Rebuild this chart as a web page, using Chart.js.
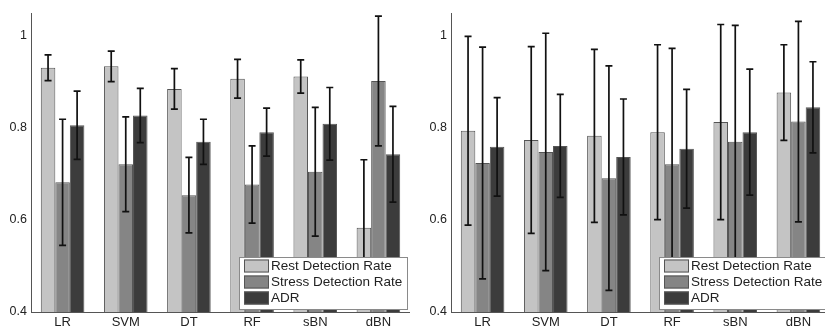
<!DOCTYPE html>
<html lang="en">
<head>
    <meta charset="UTF-8">
    <title>Detection rates</title>
    <script src="https://cdn.jsdelivr.net/npm/chart.js"></script>
    <style>
        body {
            margin: 0;
            padding: 0;
            width: 825px;
            height: 327px;
            overflow: hidden;
            background: #fff;
            position: relative;
        }
        canvas {
            position: absolute;
            top: 0;
        }
        #leftChart { left: 0; }
        #rightChart { left: 420px; }
    </style>
</head>
<body>
    <canvas id="leftChart" width="410" height="327"></canvas>
    <canvas id="rightChart" width="410" height="327"></canvas>

    <script>
        const categories = ['LR', 'SVM', 'DT', 'RF', 'sBN', 'dBN'];
        const seriesNames = ['Rest Detection Rate', 'Stress Detection Rate', 'ADR'];
        const yTicks = [0.4, 0.6, 0.8, 1];
        const yTickLabels = ['0.4', '0.6', '0.8', '1'];

        // left panel
        const leftRest = [0.931, 0.934, 0.885, 0.907, 0.912, 0.583];
        const leftRestErr = [0.028, 0.033, 0.044, 0.042, 0.036, 0.148];
        const leftStress = [0.682, 0.721, 0.654, 0.677, 0.705, 0.902];
        const leftStressErr = [0.137, 0.103, 0.082, 0.084, 0.140, 0.141];
        const leftAdr = [0.806, 0.827, 0.770, 0.791, 0.809, 0.743];
        const leftAdrErr = [0.074, 0.059, 0.049, 0.052, 0.079, 0.104];

        // right panel
        const rightRest = [0.794, 0.774, 0.783, 0.791, 0.813, 0.877];
        const rightRestErr = [0.205, 0.203, 0.188, 0.190, 0.212, 0.104];
        const rightStress = [0.724, 0.748, 0.691, 0.721, 0.770, 0.814];
        const rightStressErr = [0.252, 0.258, 0.244, 0.252, 0.253, 0.218];
        const rightAdr = [0.759, 0.761, 0.737, 0.755, 0.791, 0.845];
        const rightAdrErr = [0.107, 0.112, 0.126, 0.129, 0.137, 0.099];

        const fills = ['#c4c4c4', '#858585', '#3c3c3c'];
        const fontFamily = "'Liberation Sans', Arial, sans-serif";

        const errorBars = {
            id: 'errorBars',
            afterDatasetsDraw(chart) {
                const ctx = chart.ctx;
                const y = chart.scales.y;
                ctx.save();
                ctx.strokeStyle = '#111';
                ctx.lineWidth = 1.7;
                chart.data.datasets.forEach((ds, di) => {
                    const meta = chart.getDatasetMeta(di);
                    meta.data.forEach((bar, i) => {
                        const v = ds.data[i], e = ds.errors[i];
                        const x = bar.x;
                        const yTop = y.getPixelForValue(v + e);
                        const yBot = y.getPixelForValue(v - e);
                        ctx.beginPath();
                        ctx.moveTo(x, yTop); ctx.lineTo(x, yBot);
                        ctx.moveTo(x - 3.5, yTop); ctx.lineTo(x + 3.5, yTop);
                        ctx.moveTo(x - 3.5, yBot); ctx.lineTo(x + 3.5, yBot);
                        ctx.stroke();
                    });
                });
                ctx.restore();
            }
        };

        const boxLegend = {
            id: 'boxLegend',
            afterDraw(chart) {
                const ctx = chart.ctx;
                const area = chart.chartArea;
                const left = area.left + 208;
                const top = 257;
                const w = 168, h = 52;
                ctx.save();
                ctx.fillStyle = '#fff';
                ctx.fillRect(left, top, w, h);
                ctx.strokeStyle = '#8a8a8a';
                ctx.lineWidth = 1;
                ctx.strokeRect(left + 0.5, top + 0.5, w, h);
                ctx.font = '13.5px ' + fontFamily;
                ctx.textBaseline = 'middle';
                chart.data.datasets.forEach((ds, i) => {
                    const cy = top + 9 + i * 16;
                    ctx.fillStyle = ds.backgroundColor;
                    ctx.fillRect(left + 5, cy - 6.5, 25, 13);
                    ctx.strokeStyle = '#555';
                    ctx.strokeRect(left + 5.5, cy - 6, 24, 12);
                    ctx.fillStyle = '#222';
                    ctx.fillText(ds.label, left + 32, cy + 0.5);
                });
                ctx.restore();
            }
        };

        function makeChart(id, rest, restErr, stress, stressErr, adr, adrErr) {
            const values = [rest, stress, adr];
            const errs = [restErr, stressErr, adrErr];
            return new Chart(document.getElementById(id), {
                type: 'bar',
                data: {
                    labels: categories,
                    datasets: seriesNames.map((name, i) => ({
                        label: name,
                        data: values[i],
                        errors: errs[i],
                        backgroundColor: fills[i],
                        borderColor: '#555',
                        borderWidth: 1,
                        categoryPercentage: 0.69,
                        barPercentage: 1.0
                    }))
                },
                options: {
                    responsive: false,
                    animation: false,
                    layout: { padding: { top: 13, left: 0, right: 0, bottom: 0 } },
                    plugins: {
                        legend: { display: false },
                        tooltip: { enabled: false }
                    },
                    scales: {
                        x: {
                            grid: { display: false, drawTicks: false },
                            border: { display: true, color: '#555', width: 1 },
                            ticks: {
                                padding: 3,
                                color: '#222',
                                font: { family: fontFamily, size: 13 }
                            },
                            afterFit(scale) { scale.height = 15; }
                        },
                        y: {
                            min: 0.4,
                            max: 1.05,
                            grid: { display: false, drawTicks: false },
                            border: { display: true, color: '#555', width: 1 },
                            afterBuildTicks(scale) {
                                scale.ticks = yTicks.map(v => ({ value: v }));
                            },
                            ticks: {
                                padding: 4,
                                color: '#222',
                                font: { family: fontFamily, size: 12.5 },
                                callback: (value) => yTickLabels[yTicks.indexOf(value)]
                            },
                            afterFit(scale) { scale.width = 31; }
                        }
                    }
                },
                plugins: [errorBars, boxLegend]
            });
        }

        makeChart('leftChart', leftRest, leftRestErr, leftStress, leftStressErr, leftAdr, leftAdrErr);
        makeChart('rightChart', rightRest, rightRestErr, rightStress, rightStressErr, rightAdr, rightAdrErr);
    </script>
</body>
</html>
